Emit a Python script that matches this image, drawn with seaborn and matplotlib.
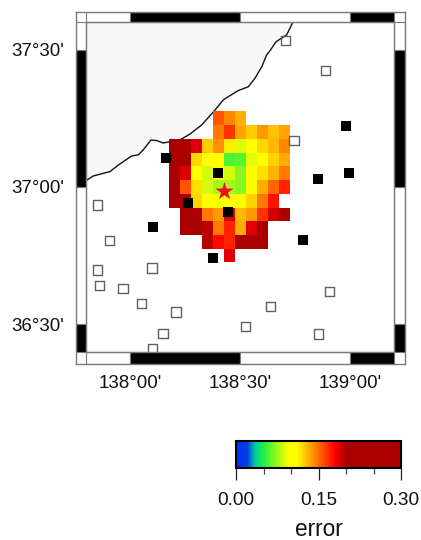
import numpy as np
import pandas as pd
import matplotlib
matplotlib.use("Agg")
import matplotlib.pyplot as plt
from matplotlib.colors import LinearSegmentedColormap
from matplotlib.patches import Rectangle
from matplotlib.transforms import Affine2D
import seaborn as sns

sns.set_theme(style="white")
plt.rcParams["font.family"] = ["Liberation Sans", "DejaVu Sans"]

W, H = 421, 540
n = np.nan

# error grid, 3' cells, north to south
error_rows = [
    [n, n, n, n, .157, .143, .132, n, n, n, n],
    [n, n, n, n, .147, .166, .135, .124, .138, .127, .135],
    [.25, .25, .188, .124, .141, .115, .088, .100, .121, .129, .143],
    [.25, .25, .121, .100, .100, .059, .062, .090, .100, .122, .133],
    [.25, .188, .100, .086, .100, .086, .072, .100, .119, .131, .147],
    [.25, .157, .119, .086, .077, .077, .071, .100, .133, .152, .171],
    [.25, .25, .122, .100, .100, .100, .100, .122, .147, .175, n],
    [n, .25, .25, .147, .138, .188, .129, .138, .166, .190, .25],
    [n, .25, .25, .196, .147, .171, .133, .188, .25, n, n],
    [n, n, n, .196, .178, .171, .25, .25, .25, n, n],
    [n, n, n, n, n, .188, n, n, n, n, n],
]
grid_lon0, grid_lat0, grid_step = 138.175, 37.275, 0.05

coast_lon = [137.80, 137.833, 137.909, 137.947, 138.008, 138.038, 138.060, 138.095, 138.121,
             138.151, 138.182, 138.227, 138.258, 138.273, 138.326, 138.386, 138.424, 138.447,
             138.492, 138.538, 138.568, 138.599, 138.621, 138.636, 138.664, 138.712, 138.727,
             138.740]
coast_lat = [37.023, 37.040, 37.056, 37.080, 37.113, 37.117, 37.135, 37.171, 37.169,
             37.160, 37.165, 37.171, 37.186, 37.193, 37.226, 37.280, 37.317, 37.329,
             37.351, 37.365, 37.396, 37.438, 37.481, 37.496, 37.529, 37.554, 37.578,
             37.600]

open_lon = [138.708, 138.888, 138.745, 137.851, 137.906, 137.851, 137.862, 137.968, 138.051,
            138.099, 138.208, 138.150, 138.101, 138.908, 138.638, 138.526, 138.856]
open_lat = [37.534, 37.425, 37.170, 36.934, 36.806, 36.697, 36.642, 36.631, 36.576,
            36.705, 36.544, 36.466, 36.410, 36.620, 36.564, 36.491, 36.464]
used_lon = [138.982, 138.853, 138.997, 138.399, 138.162, 138.262, 138.444, 138.103, 138.786, 138.379]
used_lat = [37.222, 37.028, 37.050, 37.051, 37.106, 36.941, 36.908, 36.854, 36.808, 36.741]
epic_lon = [138.427]
epic_lat = [36.987]

lon_ticks = [138.0, 138.5, 139.0]
lon_labels = ["138°00'", "138°30'", "139°00'"]
lat_ticks = [36.5, 37.0, 37.5]
lat_labels = ["36°30'", "37°00'", "37°30'"]
cbar_major = [0.0, 0.15, 0.30]
cbar_labels = ["0.00", "0.15", "0.30"]
cbar_minor = [0.05, 0.10, 0.20, 0.25]

lon_min, lon_max, lat_min, lat_max = 137.8, 139.2, 36.4, 37.6
lon_out = (137.752, 139.25)
lat_out = (36.357, 37.639)

cmap = LinearSegmentedColormap.from_list("err", [
    (0.0, "#0030ff"), (0.02 / .3, "#0040e0"), (0.035 / .3, "#00d0a0"), (0.05 / .3, "#20f040"),
    (0.095 / .3, "#ffff00"), (0.11 / .3, "#ffff00"), (0.18 / .3, "#ff0000"),
    (0.20 / .3, "#aa0000"), (1.0, "#aa0000")], N=512)


def box(l, t, r, b):
    return [l / W, 1 - b / H, (r - l) / W, (b - t) / H]


fig = plt.figure(figsize=(W / 100, H / 100), dpi=100, facecolor="white")
ax = fig.add_axes(box(75.5, 11.5, 405, 363.5))
cax = fig.add_axes(box(236, 441, 401, 467.5))

df = pd.DataFrame(error_rows)
sns.heatmap(df, ax=ax, cmap=cmap, vmin=0, vmax=0.3, cbar_ax=cax,
            cbar_kws={"orientation": "horizontal"}, xticklabels=False, yticklabels=False)
mesh = ax.collections[0]
mesh.set_transform(Affine2D().scale(grid_step, -grid_step).translate(grid_lon0, grid_lat0) + ax.transData)
mesh.set_zorder(1)
mesh.set_antialiased(False)

ax.set_xlim(*lon_out)
ax.set_ylim(*lat_out)
ax.set_facecolor("white")

# land and coast
ax.fill(coast_lon + [lon_min, lon_min], coast_lat + [lat_max, coast_lat[0]],
        color="#f8f8f8", lw=0, zorder=0.5)
sns.lineplot(x=coast_lon, y=coast_lat, ax=ax, color="#111111", lw=1.0, sort=False,
             estimator=None, zorder=0.8)

# stations
sns.scatterplot(x=open_lon, y=open_lat, ax=ax, marker="s", s=46, facecolor="none",
                edgecolor="#606060", linewidth=1.0, zorder=2)
sns.scatterplot(x=used_lon, y=used_lat, ax=ax, marker="s", s=44, color="black",
                edgecolor="black", linewidth=0, zorder=3)
sns.scatterplot(x=epic_lon, y=epic_lat, ax=ax, marker="*", s=190, color="#f01020",
                edgecolor="#f01020", linewidth=0, zorder=4)

# checkered map border
frame = "#7a7a7a"
xs = [lon_min] + lon_ticks + [lon_max]
ys = [lat_min] + lat_ticks + [lat_max]
for y0, y1 in [(lat_out[0], lat_min), (lat_max, lat_out[1])]:
    for i in range(len(xs) - 1):
        ax.add_patch(Rectangle((xs[i], y0), xs[i + 1] - xs[i], y1 - y0, zorder=5, lw=0.8,
                               fc="white" if i % 2 == 0 else "black", ec=frame))
for x0, x1 in [(lon_out[0], lon_min), (lon_max, lon_out[1])]:
    for i in range(len(ys) - 1):
        ax.add_patch(Rectangle((x0, ys[i]), x1 - x0, ys[i + 1] - ys[i], zorder=5, lw=0.8,
                               fc="black" if i % 2 == 0 else "white", ec=frame))
ax.add_patch(Rectangle((lon_min, lat_min), lon_max - lon_min, lat_max - lat_min, fc="none",
                       ec=frame, lw=1.0, zorder=5))

ax.set_xticks(lon_ticks, lon_labels)
ax.set_yticks(lat_ticks, lat_labels)
ax.tick_params(axis="x", length=0, pad=8.5, labelsize=13.5, labelcolor="#111111")
ax.tick_params(axis="y", length=0, pad=8, labelsize=13.5, labelcolor="#111111")
ax.set_xlabel("")
ax.set_ylabel("")
for s in ax.spines.values():
    s.set_visible(True)
    s.set_color(frame)
    s.set_linewidth(1.0)
    s.set_zorder(6)

# colour bar
cb = mesh.colorbar
cb.outline.set_edgecolor("black")
cb.outline.set_linewidth(1.5)
cb.outline.set_visible(True)
cax.set_xticks(cbar_major, cbar_labels)
cax.set_xticks(cbar_minor, minor=True)
cax.tick_params(axis="x", which="major", length=8.5, width=0.9, color="#222222", pad=9,
                labelsize=13.7, labelcolor="#111111", bottom=True)
cax.tick_params(axis="x", which="minor", length=4.5, width=0.9, color="#444444", bottom=True)
cax.set_xlabel("error", fontsize=16.3, labelpad=6.5, color="#111111")

fig.savefig("out.png", dpi=100, facecolor="white")
